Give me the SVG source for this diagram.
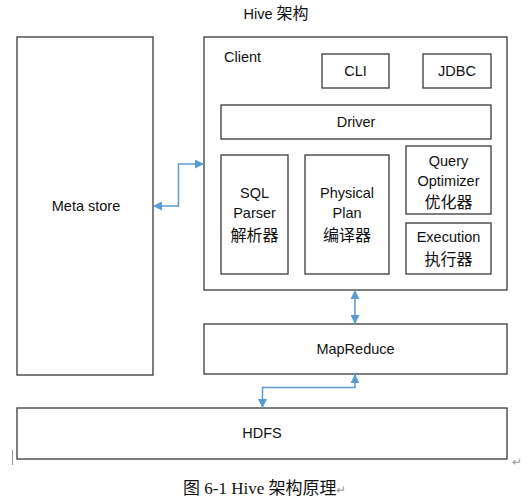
<svg xmlns="http://www.w3.org/2000/svg" width="529" height="504" viewBox="0 0 529 504">
<defs>
<style>
.box{fill:#fff;stroke:#3a3a3a;stroke-width:1.3}
.t{font-family:"Liberation Sans","Noto Sans CJK SC",sans-serif;font-size:14.5px;fill:#111;text-anchor:middle}
.tl{font-family:"Liberation Sans","Noto Sans CJK SC",sans-serif;font-size:14.5px;fill:#111}
.cj{font-size:16px}
.c{fill:none;stroke:#5B9BD5;stroke-width:1.5}
.cap{font-family:"Liberation Serif","Noto Sans CJK SC",serif;font-size:17px;fill:#111}
</style>
<marker id="ah" viewBox="0 0 10 10" refX="10" refY="5" markerWidth="11" markerHeight="9" markerUnits="userSpaceOnUse" orient="auto-start-reverse">
<path d="M0,0 L10,5 L0,10 z" fill="#5B9BD5"/>
</marker>
</defs>
<rect width="529" height="504" fill="#fff"/>
<text class="t" x="276" y="19">Hive <tspan class="cj">架构</tspan></text>
<g id="metastore">
<rect class="box" x="17" y="37" width="136" height="338"/>
<text class="t" x="86" y="211">Meta store</text>
</g>
<g id="client">
<rect class="box" x="204" y="37" width="303" height="253"/>
<text class="tl" x="224" y="62">Client</text>
</g>
<g id="cli">
<rect class="box" x="322" y="54" width="67" height="34"/>
<text class="t" x="355.5" y="76">CLI</text>
</g>
<g id="jdbc">
<rect class="box" x="423" y="54" width="68" height="34"/>
<text class="t" x="457" y="76">JDBC</text>
</g>
<g id="driver">
<rect class="box" x="221" y="105" width="270" height="34"/>
<text class="t" x="356" y="127">Driver</text>
</g>
<g id="sqlparser">
<rect class="box" x="221" y="155" width="67" height="119"/>
<text class="t" x="254.5" y="198">SQL</text>
<text class="t" x="254.5" y="218">Parser</text>
<text class="t cj" x="254.5" y="241">解析器</text>
</g>
<g id="physicalplan">
<rect class="box" x="305" y="155" width="84" height="119"/>
<text class="t" x="347" y="198">Physical</text>
<text class="t" x="347" y="218">Plan</text>
<text class="t cj" x="347" y="241">编译器</text>
</g>
<g id="optimizer">
<rect class="box" x="406" y="146" width="85" height="68"/>
<text class="t" x="448.5" y="166">Query</text>
<text class="t" x="448.5" y="186">Optimizer</text>
<text class="t cj" x="448.5" y="208">优化器</text>
</g>
<g id="execution">
<rect class="box" x="406" y="223" width="85" height="51"/>
<text class="t" x="448.5" y="242">Execution</text>
<text class="t cj" x="448.5" y="265">执行器</text>
</g>
<g id="mapreduce">
<rect class="box" x="204" y="324" width="303" height="50"/>
<text class="t" x="355.5" y="354">MapReduce</text>
</g>
<g id="hdfs">
<rect class="box" x="17" y="408" width="490" height="51"/>
<text class="t" x="262" y="438">HDFS</text>
</g>
<g id="connectors">
<polyline class="c" points="153,206 178.5,206 178.5,164 204,164" marker-start="url(#ah)" marker-end="url(#ah)"/>
<line class="c" x1="355" y1="290" x2="355" y2="324" marker-start="url(#ah)" marker-end="url(#ah)"/>
<polyline class="c" points="355,374 355,387.5 262.5,387.5 262.5,408" marker-start="url(#ah)" marker-end="url(#ah)"/>
</g>
<line x1="12.5" y1="450" x2="12.5" y2="465" stroke="#999" stroke-width="1"/>
<text x="512" y="466" font-family="Liberation Sans,sans-serif" font-size="12" fill="#999">↵</text>
<text class="cap" x="183" y="494">图 6-1 Hive 架构原理<tspan fill="#999" font-size="12">↵</tspan></text>
</svg>
